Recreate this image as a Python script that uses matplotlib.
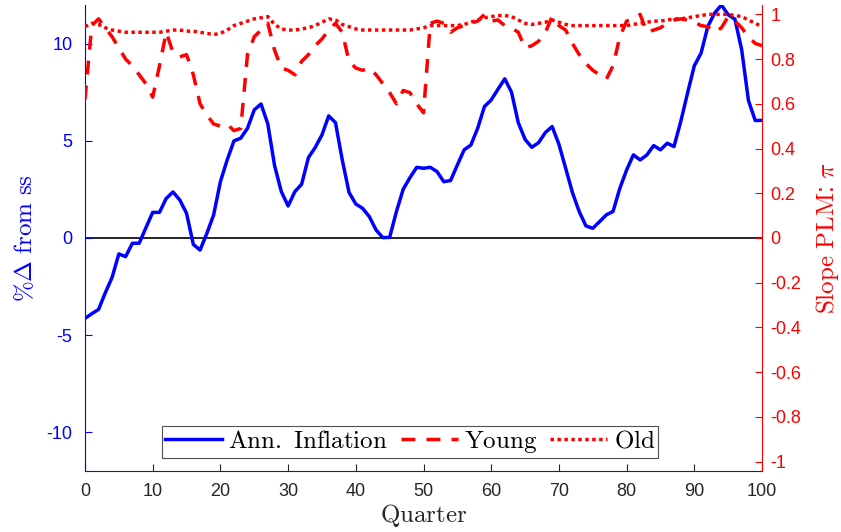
import numpy as np
import matplotlib
matplotlib.use("Agg")
import matplotlib.pyplot as plt

plt.rcParams['mathtext.fontset'] = 'cm'
plt.rcParams['font.family'] = ['Liberation Sans', 'DejaVu Sans']

quarters = list(range(0, 101))

inflation = [-4.14, -3.9, -3.68, -2.82, -2.03, -0.82, -0.96, -0.27, -0.27, 0.53,
             1.32, 1.32, 2.04, 2.37, 1.96, 1.27, -0.33, -0.62, 0.24, 1.19,
             2.9, 4.02, 5.0, 5.14, 5.65, 6.6, 6.9, 5.88, 3.73, 2.39,
             1.65, 2.39, 2.77, 4.14, 4.66, 5.31, 6.29, 5.94, 4.02, 2.35,
             1.75, 1.53, 1.1, 0.41, 0.02, 0.03, 1.36, 2.51, 3.11, 3.64,
             3.59, 3.64, 3.42, 2.9, 2.96, 3.76, 4.54, 4.79, 5.65, 6.77,
             7.11, 7.66, 8.2, 7.51, 5.94, 5.08, 4.67, 4.91, 5.43, 5.74,
             4.83, 3.59, 2.34, 1.36, 0.62, 0.5, 0.84, 1.19, 1.37, 2.56,
             3.5, 4.28, 4.02, 4.28, 4.76, 4.54, 4.88, 4.71, 6.0, 7.46,
             8.87, 9.52, 10.9, 11.58, 12.0, 11.5, 11.27, 9.69, 7.08, 6.05,
             6.06]

young = [0.62, 0.95, 0.98, 0.94, 0.90, 0.85, 0.80, 0.77, 0.73, 0.69,
         0.63, 0.77, 0.92, 0.83, 0.81, 0.82, 0.73, 0.60, 0.55, 0.51,
         0.50, 0.51, 0.48, 0.49, 0.82, 0.90, 0.93, 0.96, 0.84, 0.76,
         0.75, 0.73, 0.79, 0.82, 0.86, 0.89, 0.93, 0.96, 0.92, 0.79,
         0.76, 0.75, 0.76, 0.73, 0.69, 0.65, 0.60, 0.66, 0.65, 0.60,
         0.56, 0.96, 0.97, 0.96, 0.92, 0.94, 0.95, 0.96, 0.97, 1.00,
         0.97, 0.975, 0.95, 0.94, 0.92, 0.85, 0.86, 0.88, 0.92, 0.99,
         0.95, 0.93, 0.87, 0.82, 0.78, 0.75, 0.73, 0.71, 0.77, 0.90,
         0.97, 0.98, 1.00, 0.92, 0.93, 0.94, 0.96, 0.975, 0.98, 0.975,
         0.965, 0.95, 0.945, 0.92, 0.94, 0.99, 0.97, 0.94, 0.90, 0.87,
         0.86]

old = [0.945, 0.96, 0.955, 0.94, 0.93, 0.925, 0.92, 0.92, 0.92, 0.92,
       0.92, 0.92, 0.925, 0.93, 0.93, 0.925, 0.925, 0.92, 0.915, 0.91,
       0.915, 0.93, 0.95, 0.96, 0.97, 0.98, 0.985, 0.99, 0.955, 0.935,
       0.93, 0.93, 0.935, 0.94, 0.95, 0.965, 0.98, 0.975, 0.955, 0.945,
       0.935, 0.93, 0.93, 0.93, 0.93, 0.93, 0.93, 0.93, 0.93, 0.935,
       0.94, 0.95, 0.95, 0.95, 0.95, 0.95, 0.955, 0.965, 0.975, 0.985,
       0.99, 0.995, 0.995, 0.99, 0.975, 0.96, 0.955, 0.96, 0.965, 0.975,
       0.965, 0.955, 0.95, 0.95, 0.95, 0.95, 0.95, 0.95, 0.95, 0.95,
       0.95, 0.955, 0.96, 0.965, 0.97, 0.97, 0.975, 0.98, 0.98, 0.985,
       0.99, 0.995, 1.0, 1.0, 1.0, 1.0, 0.995, 0.99, 0.975, 0.96,
       0.945]

xticks = list(range(0, 101, 10))
left_ticks = [-10, -5, 0, 5, 10]
right_ticks = [-1, -0.8, -0.6, -0.4, -0.2, 0, 0.2, 0.4, 0.6, 0.8, 1]
right_labels = ['-1', '-0.8', '-0.6', '-0.4', '-0.2', '0', '0.2', '0.4', '0.6', '0.8', '1']

fig = plt.figure(figsize=(8.41, 5.32), dpi=100)
ax = fig.add_axes([85/841, 1 - 471/532, 677/841, 466/532])
ax2 = ax.twinx()

blue = (0, 0, 1)
red = (1, 0, 0)
gray = (0.15, 0.15, 0.15)

ax.axhline(0, color='black', lw=1.2, zorder=1)
l1, = ax.plot(quarters, inflation, color=blue, lw=2.5, label=r'$\mathrm{Ann.\ Inflation}$', zorder=3)
l2, = ax2.plot(quarters, young, color=red, lw=2.5, ls=(0, (4, 3.2)), label=r'$\mathrm{Young}$')
l3, = ax2.plot(quarters, old, color=red, lw=2.5, ls=(0, (1, 1)), label=r'$\mathrm{Old}$')

ax.set_xlim(0, 100)
ax.set_ylim(-12, 12)
ax2.set_ylim(-1.042, 1.042)
ax.set_xticks(xticks)
ax.set_yticks(left_ticks)
ax.set_yticklabels([str(t) for t in left_ticks])
ax2.set_yticks(right_ticks)
ax2.set_yticklabels(right_labels)

for a in (ax, ax2):
    a.spines['top'].set_visible(False)
ax.spines['right'].set_visible(False)
ax2.spines['left'].set_visible(False)
ax2.spines['bottom'].set_visible(False)
ax.spines['left'].set_color(blue)
ax2.spines['right'].set_color(red)
ax.spines['bottom'].set_color(gray)
for s in (ax.spines['left'], ax2.spines['right'], ax.spines['bottom']):
    s.set_linewidth(0.8)

ax.tick_params(axis='x', direction='in', length=5, width=0.8, colors=gray, labelsize=13, pad=9)
ax.tick_params(axis='y', direction='in', length=5, width=0.8, colors=blue, labelsize=13, pad=9)
ax2.tick_params(axis='y', direction='in', length=5, width=0.8, colors=red, labelsize=13, pad=6)

ax.set_xlabel(r'$\mathrm{Quarter}$', fontsize=18, color=gray, labelpad=1)
ax.set_ylabel(r'$\%\Delta\ \mathrm{from\ ss}$', fontsize=18, color=blue, labelpad=7)
ax2.set_ylabel(r'$\mathrm{Slope\ PLM}$: $\pi$', fontsize=18, color=red, labelpad=9)

leg = ax.legend(handles=[l1, l2, l3], loc='lower center', bbox_to_anchor=(0.48, 0.028),
                ncol=3, fontsize=18, frameon=True, fancybox=False, edgecolor=gray,
                handlelength=2.3, handletextpad=0.25, columnspacing=0.5, borderpad=0.12,
                borderaxespad=0)
leg.get_frame().set_linewidth(0.8)
leg.set_zorder(10)

fig.savefig('out.png', dpi=100)
